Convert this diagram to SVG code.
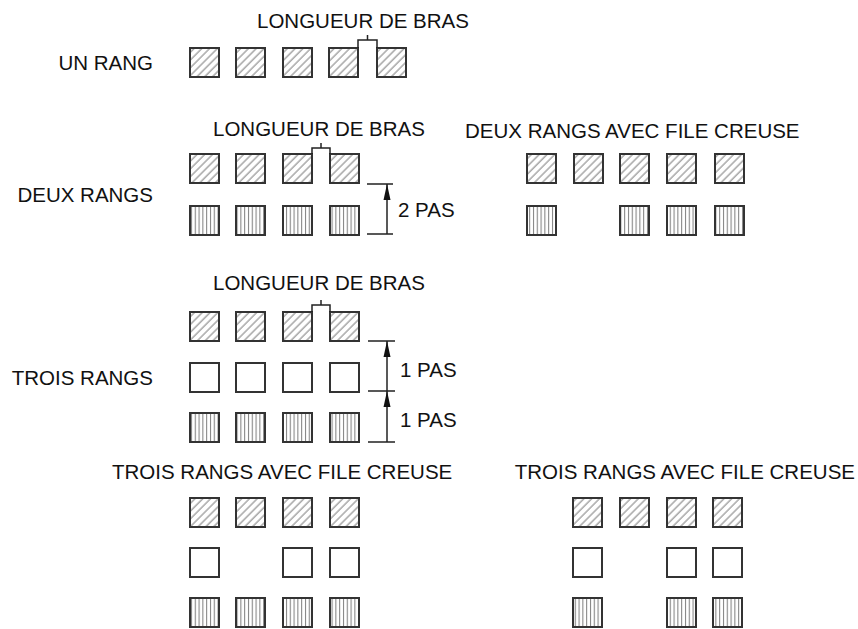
<svg xmlns="http://www.w3.org/2000/svg" width="858" height="629" viewBox="0 0 858 629">
<defs>
<pattern id="diag" patternUnits="userSpaceOnUse" width="5.5" height="5.5" patternTransform="rotate(45)">
<line x1="1" y1="0" x2="1" y2="5.5" stroke="#7a7a7a" stroke-width="1"/>
</pattern>
<pattern id="vert" patternUnits="userSpaceOnUse" width="3.8" height="10">
<line x1="1.5" y1="0" x2="1.5" y2="10" stroke="#7a7a7a" stroke-width="1"/>
</pattern>
<marker id="arr" markerWidth="16" markerHeight="8" refX="16" refY="4" orient="auto" markerUnits="userSpaceOnUse" viewBox="0 0 16 8">
<path d="M16 4 L0 0.5 L0 7.5 Z" fill="#111"/>
</marker>
<style>
text{font-family:"Liberation Sans",Arial,sans-serif;font-size:20.5px;fill:#111}
.e{text-anchor:end}
rect{width:29px;height:29px;stroke:#333;stroke-width:2}
.d{fill:url(#diag)}
.v{fill:url(#vert)}
.o{fill:#fff}
.ln{stroke:#222;stroke-width:1.5;fill:none}
</style>
</defs>
<rect x="0" y="0" width="858" height="629" style="width:858px;height:629px;fill:#fff;stroke:none"/>

<g id="un-rang">
<text x="257" y="28">LONGUEUR DE BRAS</text>
<text class="e" x="153" y="70">UN RANG</text>
<rect class="d" x="190" y="48"/><rect class="d" x="236" y="48"/><rect class="d" x="283" y="48"/><rect class="d" x="329" y="48"/><rect class="d" x="377" y="48"/>
<path class="ln" d="M358 48 V40 H377 V48 M367.5 40 V35"/>
</g>

<g id="deux-rangs">
<text x="213" y="136">LONGUEUR DE BRAS</text>
<text class="e" x="153" y="202">DEUX RANGS</text>
<rect class="d" x="190" y="154"/><rect class="d" x="236" y="154"/><rect class="d" x="283" y="154"/><rect class="d" x="330" y="154"/>
<rect class="v" x="190" y="206"/><rect class="v" x="236" y="206"/><rect class="v" x="283" y="206"/><rect class="v" x="330" y="206"/>
<path class="ln" d="M312 154 V148 H330 V154 M321 148 V143"/>
<text x="398" y="217">2 PAS</text>
</g>

<g id="deux-rangs-file-creuse">
<text x="465" y="138">DEUX RANGS AVEC FILE CREUSE</text>
<rect class="d" x="527" y="154"/><rect class="d" x="574" y="154"/><rect class="d" x="620" y="154"/><rect class="d" x="667" y="154"/><rect class="d" x="715" y="154"/>
<rect class="v" x="527" y="206"/><rect class="v" x="620" y="206"/><rect class="v" x="667" y="206"/><rect class="v" x="715" y="206"/>
</g>

<g id="trois-rangs">
<text x="213" y="290">LONGUEUR DE BRAS</text>
<text class="e" x="153" y="385">TROIS RANGS</text>
<rect class="d" x="190" y="312"/><rect class="d" x="236" y="312"/><rect class="d" x="283" y="312"/><rect class="d" x="330" y="312"/>
<rect class="o" x="190" y="363"/><rect class="o" x="236" y="363"/><rect class="o" x="283" y="363"/><rect class="o" x="330" y="363"/>
<rect class="v" x="190" y="413"/><rect class="v" x="236" y="413"/><rect class="v" x="283" y="413"/><rect class="v" x="330" y="413"/>
<path class="ln" d="M312 312 V305 H330 V312 M321 305 V300"/>
<text x="400" y="377">1 PAS</text>
<text x="400" y="427">1 PAS</text>
</g>

<g id="trois-rangs-file-creuse-1">
<text x="112" y="479">TROIS RANGS AVEC FILE CREUSE</text>
<rect class="d" x="190" y="498"/><rect class="d" x="236" y="498"/><rect class="d" x="283" y="498"/><rect class="d" x="330" y="498"/>
<rect class="o" x="190" y="548"/><rect class="o" x="283" y="548"/><rect class="o" x="330" y="548"/>
<rect class="v" x="190" y="598"/><rect class="v" x="236" y="598"/><rect class="v" x="283" y="598"/><rect class="v" x="330" y="598"/>
</g>

<g id="trois-rangs-file-creuse-2">
<text class="e" x="855" y="479">TROIS RANGS AVEC FILE CREUSE</text>
<rect class="d" x="573" y="498"/><rect class="d" x="620" y="498"/><rect class="d" x="667" y="498"/><rect class="d" x="713" y="498"/>
<rect class="o" x="573" y="548"/><rect class="o" x="667" y="548"/><rect class="o" x="713" y="548"/>
<rect class="v" x="573" y="598"/><rect class="v" x="667" y="598"/><rect class="v" x="713" y="598"/>
</g>

<g id="connectors">
<path class="ln" d="M367 184 H393 M367 234 H393"/>
<line class="ln" x1="387" y1="234" x2="387" y2="184" marker-end="url(#arr)"/>
<path class="ln" d="M368 341 H395 M368 391 H395 M368 442 H395"/>
<line class="ln" x1="387" y1="391" x2="387" y2="341" marker-end="url(#arr)"/>
<line class="ln" x1="387" y1="442" x2="387" y2="391" marker-end="url(#arr)"/>
</g>
</svg>
